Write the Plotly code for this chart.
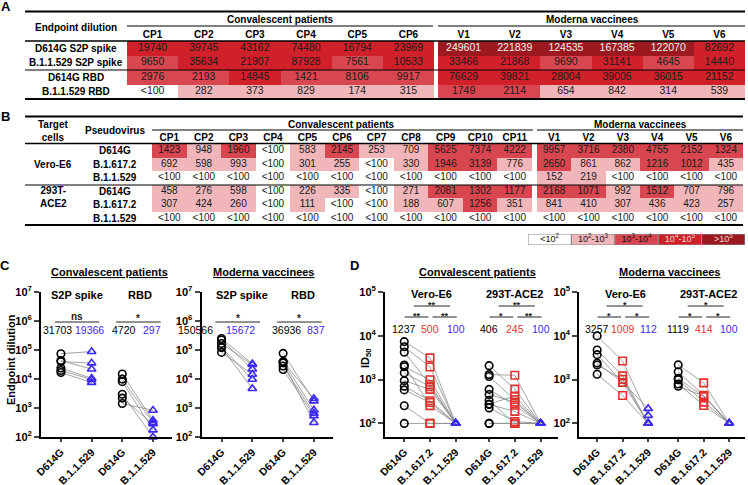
import plotly.graph_objects as go

W, H = 748, 485
FONT = "Liberation Sans, Arial, sans-serif"

# ---------------- data ----------------
# None = below the limit of detection ("<100"), plotted at LOD
LOD = 100

# A: endpoint dilution (CP1..CP6, then V1..V6)
a_cols_cp = ["CP1", "CP2", "CP3", "CP4", "CP5", "CP6"]
a_cols_v = ["V1", "V2", "V3", "V4", "V5", "V6"]
a_rows = ["D614G S2P spike", "B.1.1.529 S2P spike", "D614G RBD", "B.1.1.529 RBD"]
a_d614g_s2p = [19740, 39745, 43162, 74480, 16794, 23969, 249601, 221839, 124535, 167385, 122070, 82692]
a_omi_s2p = [9650, 35634, 21907, 87928, 7561, 10533, 33466, 21868, 9690, 31141, 4645, 14440]
a_d614g_rbd = [2976, 2193, 14845, 1421, 8106, 9917, 76629, 39821, 28004, 39005, 36015, 21152]
a_omi_rbd = [None, 282, 373, 829, 174, 315, 1749, 2114, 654, 842, 314, 539]

# B: pseudovirus ID50 (CP1..CP11, then V1..V6)
b_cols_cp = ["CP1", "CP2", "CP3", "CP4", "CP5", "CP6", "CP7", "CP8", "CP9", "CP10", "CP11"]
b_cols_v = ["V1", "V2", "V3", "V4", "V5", "V6"]
b_targets = ["Vero-E6", "293T-<br>ACE2"]
b_viruses = ["D614G", "B.1.617.2", "B.1.1.529"]
b_vero_d614g = [1423, 948, 1960, None, 583, 2145, 253, 709, 5625, 7374, 4222, 9957, 3716, 2380, 4755, 2152, 1324]
b_vero_delta = [692, 598, 993, None, 301, 255, None, 330, 1946, 3139, 776, 2650, 861, 862, 1216, 1012, 435]
b_vero_omi = [None, None, None, None, None, None, None, None, None, None, None, 152, 219, None, None, None, None]
b_ace2_d614g = [458, 276, 598, None, 226, 335, None, 271, 2081, 1302, 1177, 2168, 1071, 992, 1512, 707, 796]
b_ace2_delta = [307, 424, 260, None, 111, None, None, 188, 607, 1256, 351, 841, 410, 307, 436, 423, 257]
b_ace2_omi = [None, None, None, None, None, None, None, None, None, None, None, None, None, None, None, None, None]

legend_labels = ["&lt;10<sup>2</sup>", "10<sup>2</sup>-10<sup>3</sup>", "10<sup>3</sup>-10<sup>4</sup>",
                 "10<sup>4</sup>-10<sup>5</sup>", "&gt;10<sup>5</sup>"]
bin_colors = ["#ffffff", "#f1b6ba", "#d8474f", "#d0212a", "#9c1a1f"]

# C / D: geometric means and significance printed over the dot plots
c_ticks = ["D614G", "B.1.1.529", "D614G", "B.1.1.529"]
c_panels = ["S2P spike", "RBD"]
gm_c_conv = ["31703", "19366", "4720", "297"]
gm_c_mod = ["150566", "15672", "36936", "837"]
sig_c_conv = ["ns", "*"]
sig_c_mod = ["*", "*"]
d_ticks = ["D614G", "B.1.617.2", "B.1.1.529", "D614G", "B.1.617.2", "B.1.1.529"]
d_panels = ["Vero-E6", "293T-ACE2"]
gm_d_conv = ["1237", "500", "100", "406", "245", "100"]
gm_d_mod = ["3257", "1009", "112", "1119", "414", "100"]
sig_d_conv = [["**", "**", "**"], ["*", "**", "**"]]   # left, right, top
sig_d_mod = [["*", "*", "*"], ["*", "*", "*"]]

BLACK, RED, BLUE = "#000000", "#e2322e", "#3a2af2"


def px(x):
    return x / W


def py(y):
    return 1 - y / H


def bin_of(v):
    if v is None or v < 100:
        return 0
    if v < 1e3:
        return 1
    if v < 1e4:
        return 2
    if v < 1e5:
        return 3
    return 4


def fmt(v):
    return "&lt;100" if v is None else str(v)


colorscale = []
for i, c in enumerate(bin_colors):
    colorscale += [[i / 5, c], [(i + 1) / 5, c]]

fig = go.Figure()
layout = {}
annotations = []
shapes = []


def ax_names(i):
    s = "" if i == 1 else str(i)
    return "x" + s, "y" + s, "xaxis" + s, "yaxis" + s


def ann(text, x, y, xref="paper", yref="paper", size=10, color="black", **kw):
    annotations.append(dict(text=text, x=x, y=y, xref=xref, yref=yref, showarrow=False,
                            xanchor="center", yanchor="middle",
                            font=dict(size=size, color=color, family=FONT), **kw))


def add_table(i, cols, rows, xdom, ydom, fsize=10):
    xn, yn, xk, yk = ax_names(i)
    z = [[bin_of(v) for v in r] for r in rows]
    fig.add_trace(go.Heatmap(z=z, x=list(range(len(cols))), y=list(range(len(rows))),
                             colorscale=colorscale, zmin=-0.5, zmax=4.5, showscale=False,
                             hoverinfo="skip", xaxis=xn, yaxis=yn))
    tx, ty, tt, tc = [], [], [], []
    for r, row in enumerate(rows):
        for c, v in enumerate(row):
            tx.append(c)
            ty.append(r)
            tt.append(fmt(v))
            tc.append("#eeeeee" if bin_of(v) >= 4 else "#1a1a1a")
    fig.add_trace(go.Scatter(x=tx, y=ty, text=tt, mode="text", hoverinfo="skip",
                             textfont=dict(size=fsize, color=tc, family=FONT),
                             xaxis=xn, yaxis=yn, cliponaxis=False, showlegend=False))
    layout[xk] = dict(domain=xdom, range=[-0.5, len(cols) - 0.5], anchor=yn, side="top",
                      tickvals=list(range(len(cols))), ticktext=["<b>%s</b>" % c for c in cols],
                      ticks="", showgrid=False, zeroline=False, automargin=False,
                      tickfont=dict(size=10, color="black", family=FONT), fixedrange=True)
    layout[yk] = dict(domain=ydom, range=[len(rows) - 0.5, -0.5], anchor=xn, automargin=False,
                      showticklabels=False, ticks="", showgrid=False, zeroline=False, fixedrange=True)


# ---- table A ----
a_all = [a_d614g_s2p, a_omi_s2p, a_d614g_rbd, a_omi_rbd]
ya = [py(99), py(41)]
add_table(1, a_cols_cp, [r[:6] for r in a_all], [px(127), px(434)], ya, fsize=10.5)
add_table(2, a_cols_v, [r[6:] for r in a_all], [px(438), px(745)], ya, fsize=10.5)

# ---- table B ----
b_all = [b_vero_d614g, b_vero_delta, b_vero_omi, b_ace2_d614g, b_ace2_delta, b_ace2_omi]
yb = [py(225), py(144)]
add_table(3, b_cols_cp, [r[:11] for r in b_all], [px(152), px(532)], yb)
add_table(4, b_cols_v, [r[11:] for r in b_all], [px(537), px(743)], yb)

# ---- colour key ----
fig.add_trace(go.Heatmap(z=[list(range(len(legend_labels)))], colorscale=colorscale, zmin=-0.5, zmax=4.5,
                         showscale=False, hoverinfo="skip", xaxis="x5", yaxis="y5"))
fig.add_trace(go.Scatter(x=list(range(len(legend_labels))), y=[0] * len(legend_labels), text=legend_labels,
                         mode="text", hoverinfo="skip", cliponaxis=False, showlegend=False,
                         textfont=dict(size=9, family=FONT,
                                       color=["#111", "#111", "#111", "#f6d6d6", "#f6d6d6"]),
                         xaxis="x5", yaxis="y5"))
layout["xaxis5"] = dict(domain=[px(528), px(745)], range=[-0.5, 4.5], visible=False, anchor="y5",
                        automargin=False)
layout["yaxis5"] = dict(domain=[py(245), py(234)], range=[-0.5, 0.5], visible=False, anchor="x5",
                        automargin=False)
for i in range(len(legend_labels)):
    shapes.append(dict(type="rect", xref="x5", yref="y5", x0=i - 0.5, x1=i + 0.5, y0=-0.5, y1=0.5,
                       line=dict(color="#8a8a8a", width=1)))


# ---- table rules and labels ----
def hline(y, x0, x1, w=1.2):
    shapes.append(dict(type="line", xref="paper", yref="paper", x0=px(x0), x1=px(x1),
                       y0=py(y), y1=py(y), line=dict(color="black", width=w)))


def label(text, x, y, size=10, **kw):
    ann("<b>%s</b>" % text, px(x), py(y), size=size, **kw)


# A
hline(11.5, 25, 745, 1.8)
hline(26, 127, 433, 1)
hline(26, 438, 745, 1)
hline(41, 25, 745, 1.5)
hline(70, 25, 745, 1.2)
hline(99, 25, 745, 1.8)
label("Endpoint dilution", 76, 27)
label("Convalescent patients", 280, 19.5)
label("Moderna vaccinees", 592, 19.5)
for r, name in enumerate(a_rows):
    ann("<b>%s</b>" % name, px(76), r, yref="y")
# B
hline(116.5, 25, 743, 1.8)
hline(130, 152, 533, 1)
hline(130, 537, 743, 1)
hline(143.5, 25, 743, 1.5)
hline(185, 25, 743, 1.2)
hline(225, 25, 743, 1.8)
label("Target<br>cells", 53, 131)
label("Pseudovirus", 115, 131)
label("Convalescent patients", 341, 124.5)
label("Moderna vaccinees", 640, 124.5)
for t, name in enumerate(b_targets):
    ann("<b>%s</b>" % name, px(53), 3 * t + 1 - 0.6 * t, yref="y3")
    for v, vir in enumerate(b_viruses):
        ann("<b>%s</b>" % vir, px(115), 3 * t + v, yref="y3")

# panel letters and section titles
label("A", 6, 7, size=13)
label("B", 5, 116, size=13)
label("C", 5, 265, size=13)
label("D", 354, 265, size=13)
label("<u>Convalescent patients</u>", 109, 272, size=11)
label("<u>Moderna vaccinees</u>", 264, 272, size=11)
label("<u>Convalescent patients</u>", 477, 272, size=11)
label("<u>Moderna vaccinees</u>", 670, 272, size=11)
label("Endpoint dilution", 11, 360, size=11, textangle=-90)
label("ID<sub>50</sub>", 366, 358, size=11, textangle=-90)


# ---- dot plots (C, D) ----
MARK = {"D614G": ("circle-open", BLACK), "B.1.617.2": ("square-open", RED), "B.1.1.529": ("triangle-up-open", BLUE)}
panel_geo = {}


def add_dots(i, groups, starts, ticks, xrange, yrange, xdom, decades):
    xn, yn, xk, yk = ax_names(i)
    panel_geo[xn] = (xdom, xrange)
    n_series = len(groups[0])
    for g, series in enumerate(groups):
        lx, ly = [], []
        for j in range(len(series[0])):
            for s in range(n_series):
                lx.append(starts[g] + s)
                ly.append(series[s][j] if series[s][j] is not None else LOD)
            lx.append(None)
            ly.append(None)
        fig.add_trace(go.Scatter(x=lx, y=ly, mode="lines", line=dict(color="#8c8c8c", width=0.8),
                                 hoverinfo="skip", showlegend=False, xaxis=xn, yaxis=yn, cliponaxis=False))
    for g, series in enumerate(groups):
        for s in range(n_series):
            sym, col = MARK[ticks[s]]
            vals = [v if v is not None else LOD for v in series[s]]
            fig.add_trace(go.Scatter(x=[starts[g] + s] * len(vals), y=vals, mode="markers",
                                     marker=dict(symbol=sym, size=7.5, color=col, line=dict(width=1.6, color=col)),
                                     showlegend=False, xaxis=xn, yaxis=yn, cliponaxis=False))
    tv = [starts[g] + s for g in range(len(groups)) for s in range(n_series)]
    layout[xk] = dict(domain=xdom, range=xrange, anchor=yn, tickvals=tv,
                      ticktext=["<b>%s</b>" % t for t in ticks], tickangle=-45,
                      tickfont=dict(size=10.5, color="black", family=FONT), ticks="outside", ticklen=3,
                      tickwidth=1.5, showline=True, linewidth=2, linecolor="black", automargin=False,
                      showgrid=False, zeroline=False, fixedrange=True)
    layout[yk] = dict(domain=[py(437), py(292)], type="log", range=yrange, anchor=xn,
                      tickvals=[10 ** k for k in decades],
                      ticktext=["<b>10<sup>%d</sup></b>" % k for k in decades],
                      tickfont=dict(size=11, color="black", family=FONT), ticks="outside", ticklen=5,
                      tickwidth=2, showline=True, linewidth=2, linecolor="black", automargin=False,
                      showgrid=False, zeroline=False, fixedrange=True)
    return xn


def to_paper(xn, x):
    (d0, d1), (r0, r1) = panel_geo[xn]
    return d0 + (x - r0) / (r1 - r0) * (d1 - d0)


def note(xn, text, x, y, size=10.5, color="black", bold=False):
    ann(("<b>%s</b>" % text) if bold else text, to_paper(xn, x), py(y), size=size, color=color)


def bar(xn, x0, x1, y):
    shapes.append(dict(type="line", xref="paper", yref="paper", x0=to_paper(xn, x0), x1=to_paper(xn, x1),
                       y0=py(y), y1=py(y), line=dict(color="#6e6e6e", width=1.5)))


# C
c_conv = [[a_d614g_s2p[:6], a_omi_s2p[:6]], [a_d614g_rbd[:6], a_omi_rbd[:6]]]
c_mod = [[a_d614g_s2p[6:], a_omi_s2p[6:]], [a_d614g_rbd[6:], a_omi_rbd[6:]]]
for i, groups, xdom, gms, sigs, gx, tx in [
        (6, c_conv, [px(41), px(172)], gm_c_conv, sig_c_conv, [-0.11, 0.93, 2.06, 2.98], [0.52, 2.57]),
        (7, c_mod, [px(201.5), px(333)], gm_c_mod, sig_c_mod, [-0.85, 0.62, 2.12, 3.06], [0.66, 2.66])]:
    xn = add_dots(i, groups, [0, 2], c_ticks, [-0.65, 3.62], [2, 7], xdom, range(2, 8))
    cols = [BLACK, BLUE, BLACK, BLUE]
    for k, t in enumerate(gms):
        note(xn, t, gx[k], 330, color=cols[k])
    for g in range(2):
        note(xn, c_panels[g], tx[g], 295, size=11, bold=True)
        bar(xn, 2 * g - 0.2, 2 * g + 1.25, 322)
        note(xn, sigs[g], 2 * g + 0.52, 316 if sigs[g] == "ns" else 318, size=10, bold=True, color="#222")

# D
d_conv = [[b_vero_d614g[:11], b_vero_delta[:11], b_vero_omi[:11]],
          [b_ace2_d614g[:11], b_ace2_delta[:11], b_ace2_omi[:11]]]
d_mod = [[b_vero_d614g[11:], b_vero_delta[11:], b_vero_omi[11:]],
         [b_ace2_d614g[11:], b_ace2_delta[11:], b_ace2_omi[11:]]]
for i, groups, xdom, starts, xr, gms, sigs, tx in [
        (8, d_conv, [px(385), px(558)], [0, 3.3], [-0.75, 5.98], gm_d_conv, sig_d_conv, [1.04, 4.3]),
        (9, d_mod, [px(579.3), px(745)], [0, 3.18], [-0.7, 5.8], gm_d_mod, sig_d_mod, [1.13, 4.38])]:
    xn = add_dots(i, groups, starts, d_ticks, xr, [1.69, 5], xdom, range(2, 6))
    cols = [BLACK, RED, BLUE]
    for g in range(2):
        s = starts[g]
        for k in range(3):
            note(xn, gms[3 * g + k], s + k, 329, color=cols[k])
        note(xn, d_panels[g], tx[g], 294, size=11, bold=True)
        for (x0, x1, y), star in zip([(s + 0.02, s + 0.94, 317), (s + 1.1, s + 2.04, 317),
                                      (s + 0.37, s + 1.78, 306)], sigs[g]):
            bar(xn, x0, x1, y)
            note(xn, star, (x0 + x1) / 2, y - 1.5, size=9, bold=True, color="#222")

layout.update(dict(width=W, height=H, margin=dict(l=0, r=0, t=0, b=0, autoexpand=False), autosize=False,
                   paper_bgcolor="white", plot_bgcolor="white", showlegend=False,
                   font=dict(family=FONT, color="black"), annotations=annotations, shapes=shapes))
fig.update_layout(**layout)
fig.write_html("out.html", config={"displayModeBar": False},
               post_script="document.body.style.margin = '0px';")
